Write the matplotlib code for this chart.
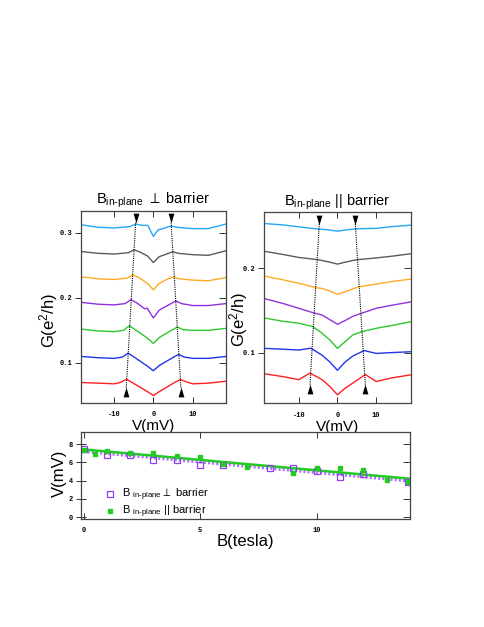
import matplotlib.pyplot as plt
import numpy as np

plt.rcParams['font.family'] = ['Liberation Sans', 'DejaVu Sans']
plt.rcParams['mathtext.fontset'] = 'custom'
plt.rcParams['mathtext.rm'] = 'Liberation Sans'
plt.rcParams['mathtext.it'] = 'Liberation Sans'
plt.rcParams['mathtext.fallback'] = 'stixsans'

#%% data
colors = ['#ff2020', '#2233ee', '#2ec72e', '#9030e0', '#ffaa22', '#5a5a5a', '#22a8f5']

# B in-plane perpendicular to barrier (bottom to top trace)
perp_red_v = [-18.5, -14, -10, -8.4, -6.9, -5.4, -1.5, 0, 1.5, 5.4, 6.9, 8.4, 10, 14, 18.5]
perp_red_g = [0.070, 0.069, 0.068, 0.070, 0.075, 0.070, 0.056, 0.050, 0.056, 0.070, 0.0745, 0.071, 0.068, 0.069, 0.072]
perp_blue_v = [-18.5, -14, -10, -7.9, -6.4, -4.9, -1.5, 0, 1.5, 4.9, 6.4, 7.9, 10, 14, 18.5]
perp_blue_g = [0.110, 0.108, 0.107, 0.109, 0.115, 0.109, 0.095, 0.088, 0.096, 0.108, 0.113, 0.109, 0.107, 0.107, 0.110]
perp_green_v = [-18.5, -14, -10, -7.6, -6.1, -4.6, -1.5, 0, 1.5, 4.6, 6.1, 7.6, 10, 14, 18.5]
perp_green_g = [0.152, 0.149, 0.148, 0.150, 0.157, 0.151, 0.138, 0.130, 0.139, 0.150, 0.155, 0.151, 0.150, 0.150, 0.153]
perp_purple_v = [-18.5, -14, -10, -7.2, -5.7, -4.2, -2.2, -1.6, 0, 1.5, 4.2, 5.7, 7.2, 10, 14, 18.5]
perp_purple_g = [0.193, 0.190, 0.189, 0.191, 0.197, 0.192, 0.183, 0.184, 0.169, 0.181, 0.190, 0.195, 0.191, 0.188, 0.188, 0.191]
perp_orange_v = [-18.5, -14, -10, -6.7, -5.2, -3.7, -1.5, 0, 1.5, 3.7, 5.2, 6.7, 10, 14, 18.5]
perp_orange_g = [0.232, 0.229, 0.228, 0.230, 0.235, 0.231, 0.222, 0.212, 0.222, 0.229, 0.232, 0.229, 0.227, 0.226, 0.231]
perp_gray_v = [-18.5, -14, -10, -6.4, -4.9, -3.4, -1.5, 0, 1.5, 3.4, 4.9, 6.4, 10, 14, 18.5]
perp_gray_g = [0.271, 0.268, 0.267, 0.269, 0.2735, 0.270, 0.264, 0.254, 0.263, 0.267, 0.2705, 0.268, 0.266, 0.265, 0.272]
perp_cyan_v = [-18.5, -14, -10, -6, -4.5, -3, -1.4, 0, 1.2, 3, 4.5, 6, 10, 14, 18.5]
perp_cyan_g = [0.312, 0.308, 0.307, 0.309, 0.313, 0.311, 0.311, 0.294, 0.304, 0.307, 0.310, 0.308, 0.306, 0.306, 0.313]

# B in-plane parallel to barrier
par_red_v = [-19, -14, -10, -7.1, -4, -2, 0, 2, 4, 7.2, 10, 14, 19]
par_red_g = [0.075, 0.0715, 0.068, 0.0757, 0.068, 0.060, 0.050, 0.058, 0.064, 0.074, 0.0658, 0.070, 0.0737]
par_blue_v = [-19, -14, -10, -6.9, -4, -2, 0, 2, 4, 6.9, 10, 14, 19]
par_blue_g = [0.105, 0.104, 0.103, 0.1052, 0.097, 0.089, 0.079, 0.089, 0.096, 0.1024, 0.099, 0.100, 0.101]
par_green_v = [-19, -14, -10, -6.5, -4, -2, 0, 2, 4, 6.5, 10, 14, 19]
par_green_g = [0.141, 0.137, 0.1347, 0.131, 0.123, 0.115, 0.105, 0.113, 0.121, 0.125, 0.1287, 0.132, 0.1366]
par_purple_v = [-19, -14, -10, -6.2, -4, -2, 0, 2, 4, 6.2, 10, 14, 19]
par_purple_g = [0.164, 0.158, 0.1524, 0.147, 0.1445, 0.139, 0.1335, 0.138, 0.143, 0.1465, 0.1524, 0.156, 0.160]
par_orange_v = [-19, -14, -10, -5.7, -4, -2, 0, 2, 4, 5.7, 10, 14, 19]
par_orange_g = [0.1906, 0.186, 0.182, 0.177, 0.1758, 0.173, 0.169, 0.172, 0.1755, 0.178, 0.181, 0.184, 0.187]
par_gray_v = [-19, -14, -10, -5.2, -4, -2, 0, 2, 4, 5.2, 10, 14, 19]
par_gray_g = [0.220, 0.216, 0.2126, 0.210, 0.209, 0.207, 0.2047, 0.207, 0.209, 0.210, 0.212, 0.214, 0.217]
par_cyan_v = [-19, -14, -10, -4.7, -4, -2, 0, 2, 4, 4.7, 10, 14, 19]
par_cyan_g = [0.2528, 0.251, 0.2488, 0.246, 0.246, 0.245, 0.2437, 0.245, 0.246, 0.2465, 0.247, 0.249, 0.2508]

# peak guides: (V at bottom trace, V at top trace)
perp_left_guide = [-6.9, -4.5]
perp_right_guide = [7.0, 4.5]
perp_guide_g = [0.062, 0.317]
par_left_guide = [-7.1, -4.7]
par_right_guide = [7.2, 4.6]
par_guide_g = [0.062, 0.2528]

# peak position vs field
b_perp = [0, 1, 2, 3, 4, 5, 6, 8, 9, 10, 11, 12, 13.9]
v_perp = [7.53, 6.87, 6.87, 6.32, 6.32, 5.77, 5.77, 5.40, 5.44, 5.04, 4.42, 4.68, 3.87]
b_par = [0, 0.5, 1, 2, 3, 4, 5, 6, 7, 9, 10, 11, 12, 13, 13.9]
v_par = [7.42, 6.90, 7.27, 7.00, 7.05, 6.68, 6.61, 5.88, 5.50, 4.86, 5.40, 5.40, 5.22, 4.05, 3.90]

tick_font = dict(family='Liberation Mono', weight='bold', size=5)
arrow_marker = [(-0.6, -1), (0.6, -1), (0, 1), (-0.6, -1)]
down_marker = [(-0.6, 1), (0.6, 1), (0, -1), (-0.6, 1)]
sub = r'$_{\mathrm{in}\text{-}\mathrm{plane}}$'


def style_axes(ax, xticks, xlabels, yticks, ylabels, left_dir='out'):
    ax.set_xticks(xticks)
    ax.set_xticklabels(xlabels, fontdict=tick_font)
    ax.set_yticks(yticks)
    ax.set_yticklabels(ylabels, fontdict=tick_font)
    ax.tick_params(axis='x', direction='in', length=4, width=0.7, pad=6, color='#333333')
    ax.tick_params(axis='y', direction=left_dir, length=4 if left_dir == 'out' else 7,
                   width=0.7, pad=2, color='#333333')
    for s in ax.spines.values():
        s.set_linewidth(0.9)
        s.set_color('#444444')
    top = ax.secondary_xaxis('top')
    top.set_xticks(xticks)
    top.set_xticklabels([])
    top.tick_params(direction='in', length=4, width=0.7, color='#333333')
    top.spines['top'].set_visible(False)
    right = ax.secondary_yaxis('right')
    right.set_yticks(yticks)
    right.set_yticklabels([])
    right.tick_params(direction='in', length=5, width=0.7, color='#333333')
    right.spines['right'].set_visible(False)


fig = plt.figure(figsize=(4.85, 6.27), dpi=100)

#%% panel 1
ax1 = fig.add_axes([0.1664, 0.3577, 0.2996, 0.3058])
perp_traces = [(perp_red_v, perp_red_g), (perp_blue_v, perp_blue_g), (perp_green_v, perp_green_g),
               (perp_purple_v, perp_purple_g), (perp_orange_v, perp_orange_g),
               (perp_gray_v, perp_gray_g), (perp_cyan_v, perp_cyan_g)]
for (v, g), c in zip(perp_traces, colors):
    ax1.plot(v, g, color=c, lw=1.0)
for guide in (perp_left_guide, perp_right_guide):
    ax1.plot(guide, perp_guide_g, color='black', lw=0.8, ls=(0, (1, 1)))
    ax1.plot(guide[0], perp_guide_g[0] - 0.006, marker=arrow_marker, ms=7, color='black', mew=0)
    ax1.plot(guide[1], perp_guide_g[1] + 0.005, marker=down_marker, ms=7, color='black', mew=0)
ax1.set_xlim(-18.5, 18.5)
ax1.set_ylim(0.039, 0.333)
style_axes(ax1, [-10, 0, 10], ['-10', '0', '10'], [0.1, 0.2, 0.3], ['0.1', '0.2', '0.3'])
ax1.set_title('B' + sub + r' $\perp$ barrier', fontsize=10.5, pad=5)
ax1.set_xlabel('V(mV)', fontsize=11, labelpad=1)
ax1.set_ylabel(r'G(e$^2$/h)', fontsize=12)
ax1.yaxis.set_label_coords(-0.142, 0.431)

#%% panel 2
ax2 = fig.add_axes([0.5443, 0.3568, 0.3031, 0.3046])
par_traces = [(par_red_v, par_red_g), (par_blue_v, par_blue_g), (par_green_v, par_green_g),
              (par_purple_v, par_purple_g), (par_orange_v, par_orange_g),
              (par_gray_v, par_gray_g), (par_cyan_v, par_cyan_g)]
for (v, g), c in zip(par_traces, colors):
    ax2.plot(v, g, color=c, lw=1.0)
for guide in (par_left_guide, par_right_guide):
    ax2.plot(guide, par_guide_g, color='black', lw=0.8, ls=(0, (1, 1)))
    ax2.plot(guide[0], par_guide_g[0] - 0.0055, marker=arrow_marker, ms=7, color='black', mew=0)
    ax2.plot(guide[1], par_guide_g[1] + 0.004, marker=down_marker, ms=7, color='black', mew=0)
ax2.set_xlim(-19, 19)
ax2.set_ylim(0.040, 0.266)
style_axes(ax2, [-10, 0, 10], ['-10', '0', '10'], [0.1, 0.2], ['0.1', '0.2'])
ax2.set_title('B' + sub + ' || barrier', fontsize=10.5, pad=5)
ax2.set_xlabel('V(mV)', fontsize=11, labelpad=1)
ax2.set_ylabel(r'G(e$^2$/h)', fontsize=12)
ax2.yaxis.set_label_coords(-0.095, 0.439)

#%% bottom panel: peak position vs field
ax3 = fig.add_axes([0.1664, 0.1722, 0.6790, 0.1392])
fit_perp = np.polyfit(b_perp, v_perp, 1)
fit_par = np.polyfit(b_par, v_par, 1)
b_line = np.array([0, 14])
ax3.plot(b_line, np.polyval(fit_perp, b_line), color='#b070ff', lw=2.5, ls=(0, (0.6, 0.6)))
ax3.plot(b_line, np.polyval(fit_par, b_line), color='#22cc22', lw=1.8)
ax3.plot(b_perp, v_perp, 's', mfc='none', mec='#9040f0', mew=0.9, ms=4.5,
         label='B ' + sub + r'$\perp$ barrier')
ax3.plot(b_par, v_par, 's', color='#22cc22', ms=3.5,
         label='B ' + sub + ' || barrier')
ax3.set_xlim(-0.12, 14.0)
ax3.set_ylim(-0.22, 9.38)
style_axes(ax3, [0, 5, 10], ['0', '5', '10'], [0, 2, 4, 6, 8], ['0', '2', '4', '6', '8'], left_dir='inout')
ax3.set_xlabel('B(tesla)', fontsize=12, labelpad=0)
ax3.set_ylabel('V(mV)', fontsize=12)
ax3.yaxis.set_label_coords(-0.042, 0.527)
ax3.legend(loc='upper left', bbox_to_anchor=(0.055, 0.43), frameon=False, fontsize=8,
           handlelength=1.0, handletextpad=0.6, borderpad=0, labelspacing=0.05)

fig.savefig('out.png', dpi=100)
